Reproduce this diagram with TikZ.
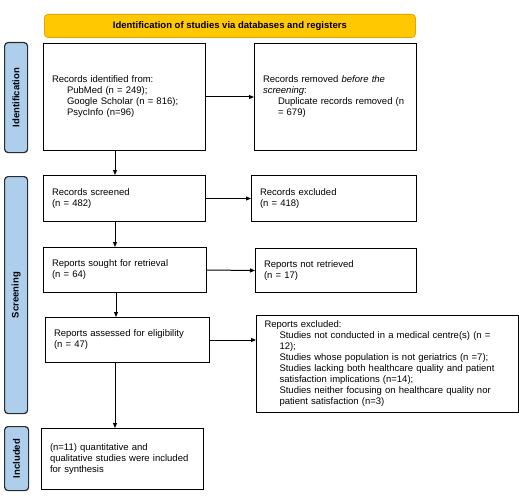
\documentclass[tikz,border=0pt]{standalone}
\usepackage{fontspec}
\setmainfont{Liberation Sans}
\usetikzlibrary{arrows.meta, positioning}
\definecolor{cgold}{HTML}{FFC800}
\definecolor{cgoldline}{HTML}{E0A800}
\definecolor{cstage}{HTML}{AECFEC}
\definecolor{cstageline}{HTML}{2B2B2B}
\tikzset{
  every picture/.style={font=\fontsize{9.5}{11}\selectfont, line width=1pt},
  recbox/.style={draw=black, rectangle, anchor=north west, align=left, inner xsep=8.5pt, inner ysep=2pt},
  stage/.style={draw=cstageline, fill=cstage, rounded corners=3.5pt, line width=1.2pt, anchor=north west,
    minimum width=23pt, inner sep=0pt},
  stagetext/.style={rotate=90, font=\fontsize{9.5}{11}\selectfont\bfseries},
  header/.style={draw=cgoldline, fill=cgold, rounded corners=3.5pt, line width=0.8pt, anchor=north west,
    minimum width=371pt, minimum height=23pt, font=\fontsize{9.5}{11}\selectfont\bfseries},
  arrow/.style={-{Triangle[length=5pt, width=4pt]}, draw=black, line width=1pt},
}
\newcommand{\ind}{\hspace*{15pt}}
\begin{document}
\begin{tikzpicture}
  \useasboundingbox (0,0) rectangle (519pt,-500pt);
  \node[header] (head) at (44pt,-14pt) {Identification of studies via databases and registers};
  % stage bars
  \node[stage, minimum height=110pt] (sid) at (4pt,-42pt) {};
  \node[stagetext] at (sid.center) {Identification};
  \node[stage, minimum height=237pt] (sscr) at (4pt,-176pt) {};
  \node[stagetext] at (sscr.center) {Screening};
  \node[stage, minimum height=64pt, minimum width=24pt] (sinc) at (4pt,-426pt) {};
  \node[stagetext] at (sinc.center) {Included};
  % boxes
  \node[recbox, minimum width=162pt, minimum height=107pt, text width=145pt] (ident) at (43pt,-43pt)
    {Records identified from:\\\ind PubMed (n = 249);\\\ind Google Scholar (n = 816);\\\ind PsycInfo (n=96)\\[4pt]};
  \node[recbox, minimum width=162pt, minimum height=107pt, text width=145pt] (dup) at (254pt,-43pt)
    {Records removed \textit{before the}\\\textit{screening}:\\\ind Duplicate records removed (n\\\ind = 679)\\[4pt]};
  \node[recbox, minimum width=162pt, minimum height=46pt, text width=145pt] (scr) at (43pt,-175pt)
    {Records screened\\(n = 482)};
  \node[recbox, minimum width=165pt, minimum height=46pt, text width=148pt] (excl) at (251pt,-175pt)
    {Records excluded\\(n = 418)};
  \node[recbox, minimum width=163pt, minimum height=45pt, text width=146pt] (sought) at (43pt,-247pt)
    {Reports sought for retrieval\\(n = 64)};
  \node[recbox, minimum width=161pt, minimum height=44pt, text width=144pt] (notret) at (255pt,-248pt)
    {Reports not retrieved\\(n = 17)};
  \node[recbox, minimum width=164pt, minimum height=45pt, text width=147pt] (elig) at (45pt,-317pt)
    {Reports assessed for eligibility\\(n = 47)};
  \node[recbox, minimum width=262pt, minimum height=97pt, text width=246pt, inner xsep=8pt] (repexcl) at (256pt,-315pt)
    {Reports excluded:\\\ind Studies not conducted in a medical centre(s) (n =\\\ind 12);\\\ind Studies whose population is not geriatrics (n =7);\\\ind Studies lacking both healthcare quality and patient\\\ind satisfaction implications (n=14);\\\ind Studies neither focusing on healthcare quality nor\\\ind patient satisfaction (n=3)};
  \node[recbox, minimum width=162pt, minimum height=61pt, text width=145pt] (incl) at (41pt,-428pt)
    {(n=11) quantitative and\\qualitative studies were included\\for synthesis\\[3pt]};
  % connectors
  \draw[arrow] (ident.east) -- (dup.west);
  \draw[arrow] (ident.south -| 115pt,0) -- (scr.north -| 115pt,0);
  \draw[arrow] (scr.east) -- (excl.west);
  \draw[arrow] (scr.south -| 115pt,0) -- (sought.north -| 115pt,0);
  \draw[arrow] (sought.east) -- (notret.west);
  \draw[arrow] (sought.south -| 116pt,0) -- (elig.north -| 116pt,0);
  \draw[arrow] (elig.east) -- (repexcl.west |- elig.east);
  \draw[arrow] (elig.south -| 115pt,0) -- (incl.north -| 115pt,0);
\end{tikzpicture}
\end{document}
